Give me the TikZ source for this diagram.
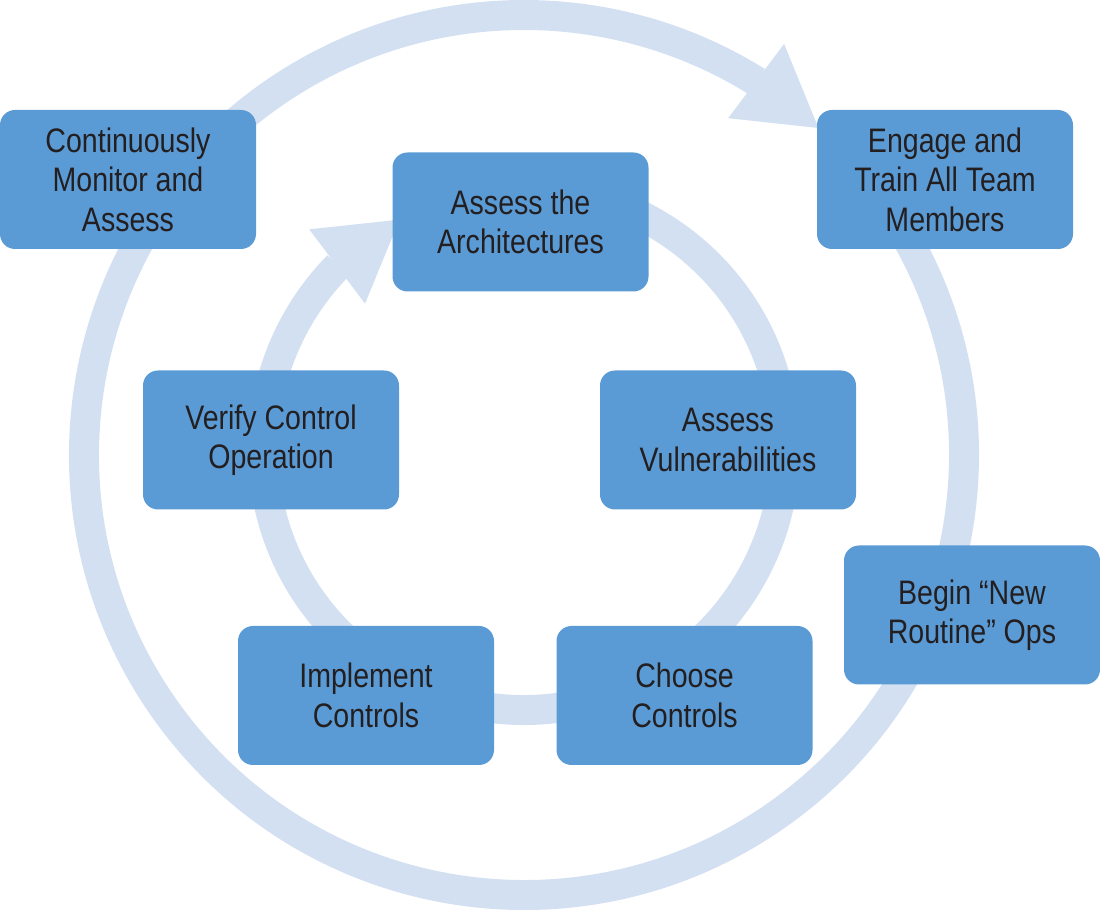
\documentclass[tikz,border=0pt]{standalone}
\usepackage{fontspec}
\setmainfont[FakeStretch=0.84]{Liberation Sans}
\usetikzlibrary{arrows.meta,bending}
\definecolor{boxblue}{HTML}{5B9BD5}
\definecolor{ringblue}{HTML}{D3E0F2}
\definecolor{inkgrey}{HTML}{231F20}
\tikzset{
  stepbox/.style={fill=boxblue, rounded corners=7.5pt, minimum width=128pt,
    minimum height=69.5pt, inner sep=0pt, text=inkgrey, align=center,
    font=\fontsize{17}{19.75}\selectfont},
  ring/.style={draw=ringblue, line width=15pt},
  ringtip/.style={-{Triangle[length=39pt,width=46.5pt,line width=0pt]}}
}
\begin{document}
\begin{tikzpicture}[x=0.5pt,y=0.5pt]
\useasboundingbox (0,0) rectangle (1100,910);
% outer loop
\draw[ring, ringtip] (524,455) ++(35:440) arc (35:-312:440);
% inner loop
\draw[ring, ringtip] (524,461) ++(100:261) arc (100:-241.5:261);
\node [stepbox] (monitor) at (128,730.5) {Continuously\\Monitor and\\Assess};
\node [stepbox] (engage) at (945,730.5) {Engage and\\Train All Team\\Members};
\node [stepbox] (arch) at (520.5,688) {Assess the\\Architectures};
\node [stepbox] (verify) at (271,470) {Verify Control\\Operation};
\node [stepbox] (vuln) at (728,470) {Assess\\Vulnerabilities};
\node [stepbox] (newops) at (972,295) {Begin “New\\Routine” Ops};
\node [stepbox] (implement) at (366,214.5) {Implement\\Controls};
\node [stepbox] (choose) at (684.5,214.5) {Choose\\Controls};
\end{tikzpicture}
\end{document}
